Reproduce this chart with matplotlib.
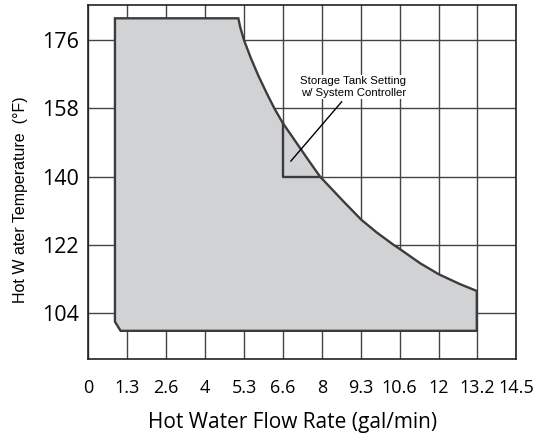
import matplotlib
matplotlib.use("Agg")
import matplotlib.pyplot as plt
import numpy as np

# axis ticks (flow rate gal/min, temperature F)
x_ticks = np.linspace(0, 14.5, 12)
x_labels = ['0', '1.3', '2.6', '4', '5.3', '6.6', '8', '9.3', '10.6', '12', '13.2', '14.5']
y_ticks = [104, 122, 140, 158, 176]

# outline of the operating range
curve_x = [5.08, 5.15, 5.27, 5.51, 5.77, 6.04, 6.30, 6.58, 7.06, 7.45, 7.85,
           8.64, 9.24, 9.77, 10.33, 10.56, 11.24, 11.87, 12.59, 13.16]
curve_y = [181.7, 179.2, 176, 171.1, 166.4, 162.0, 158.0, 154.2, 148.8, 144.4, 140,
           133.5, 128.7, 125.3, 122.1, 120.9, 117.2, 114.3, 111.7, 109.9]
left_x, top_y, bottom_y = 0.90, 181.7, 99.4
chamfer = (1.09, 101.8)

# storage tank setting step
step_x = [6.58, 6.58, 7.85]
step_y = [154.2, 140, 140]

poly_x = [left_x] + curve_x + [curve_x[-1], chamfer[0], left_x, left_x]
poly_y = [top_y] + curve_y + [bottom_y, bottom_y, chamfer[1], top_y]

fig = plt.figure(figsize=(5.57, 4.40), dpi=100)
ax = fig.add_axes([0.1587, 0.1834, 0.7683, 0.8052])

ax.set_xlim(0, 14.5)
ax.set_ylim(91.9, 185.2)
ax.set_xticks(x_ticks)
ax.set_xticklabels(x_labels)
ax.set_yticks(y_ticks)
ax.grid(True, color='#444444', lw=1.0)
ax.set_axisbelow(True)
ax.tick_params(axis='x', length=0, pad=14)
ax.tick_params(axis='y', length=0, pad=7)
for lbl in ax.get_xticklabels() + ax.get_yticklabels():
    lbl.set_family('Open Sans')
for lbl in ax.get_xticklabels():
    lbl.set_fontsize(13)
for lbl in ax.get_yticklabels():
    lbl.set_fontsize(15.5)
for s in ax.spines.values():
    s.set_color('#222222')
    s.set_linewidth(1.2)

ax.fill(poly_x, poly_y, facecolor='#d1d2d4', edgecolor='#3c3c3c', lw=1.7, zorder=2)
ax.plot(step_x, step_y, color='#3c3c3c', lw=1.7, zorder=3)

ax.text(8.98, 160.8, 'Storage Tank Setting\nw/ System Controller', ha='center', va='bottom',
        family='Liberation Sans', fontsize=8.2, linespacing=1.2, zorder=4,
        bbox=dict(facecolor='white', edgecolor='none', pad=1))
ax.plot([8.58, 6.86], [159.7, 144.1], color='black', lw=1.0, zorder=4)

ax.set_xlabel('Hot Water Flow Rate (gal/min)', family='Open Sans', fontsize=15)
ax.xaxis.set_label_coords(0.476, -0.15)
ax.set_ylabel('Hot W ater Temperature  (°F)', family='Liberation Sans', fontsize=11.5)
ax.yaxis.set_label_coords(-0.14, 0.45)

fig.savefig('out.png', dpi=100)
